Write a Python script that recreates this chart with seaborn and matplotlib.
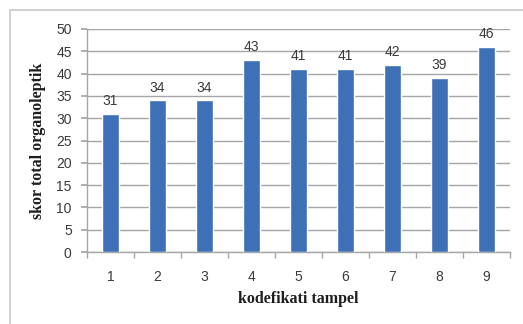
import matplotlib
matplotlib.use("Agg")
import matplotlib.pyplot as plt
from matplotlib.patches import Rectangle
import pandas as pd
import seaborn as sns

# chart data
kode = ["1", "2", "3", "4", "5", "6", "7", "8", "9"]
skor = [31, 34, 34, 43, 41, 41, 42, 39, 46]

BAR_COLOR = "#3d70b6"
GRID_COLOR = "#a6a6a6"
TEXT_COLOR = "#3a3a3a"

sns.set_theme(style="white")
plt.rcParams["font.family"] = ["Liberation Sans", "DejaVu Sans"]

df = pd.DataFrame({"kode": kode, "skor": skor})

fig = plt.figure(figsize=(5.23, 3.24), dpi=100)
ax = fig.add_axes([87 / 523, 1 - 252 / 324, (510 - 87) / 523, (252 - 29) / 324])

sns.barplot(data=df, x="kode", y="skor", color=BAR_COLOR, width=0.38,
            saturation=1, ax=ax, zorder=3)

ax.set_ylim(0, 50)
ax.set_yticks(range(0, 51, 5))
ax.set_xlim(-0.5, len(kode) - 0.5)
ax.yaxis.grid(True, color=GRID_COLOR, linewidth=1.0, zorder=0)
ax.set_axisbelow(True)

for s in ["top", "right"]:
    ax.spines[s].set_visible(False)
for s in ["left", "bottom"]:
    ax.spines[s].set_color(GRID_COLOR)
    ax.spines[s].set_linewidth(1.0)

# minor ticks between categories on x, like excel
ax.set_xticks([i + 0.5 for i in range(-1, len(kode))], minor=True)
ax.tick_params(axis="x", which="major", length=0, pad=13, labelsize=10,
               colors=TEXT_COLOR)
ax.tick_params(axis="x", which="minor", length=4, color=GRID_COLOR,
               direction="out", bottom=True)
ax.tick_params(axis="y", length=4, color=GRID_COLOR, direction="out", left=True,
               pad=7, labelsize=10, labelcolor=TEXT_COLOR)

for p, v in zip(ax.patches, skor):
    ax.text(p.get_x() + p.get_width() / 2, v + 1.3, str(v), ha="center",
            va="bottom", fontsize=10, color=TEXT_COLOR)

ax.set_xlabel("kodefikati tampel", family=["Liberation Serif"], fontweight="bold",
              fontsize=11.5, labelpad=5, color="#1e1e1e")
ax.set_ylabel("skor total organoleptik", family=["Liberation Serif"],
              fontweight="bold", fontsize=11.5, labelpad=7, color="#1e1e1e")

# outer chart border
fig.patches.append(Rectangle((10 / 523, -0.1), 1.2, 0.969 + 0.1,
                             transform=fig.transFigure, fill=False,
                             edgecolor="#c8c8c8", linewidth=1.2, clip_on=False))

fig.savefig("out.png", dpi=100)
